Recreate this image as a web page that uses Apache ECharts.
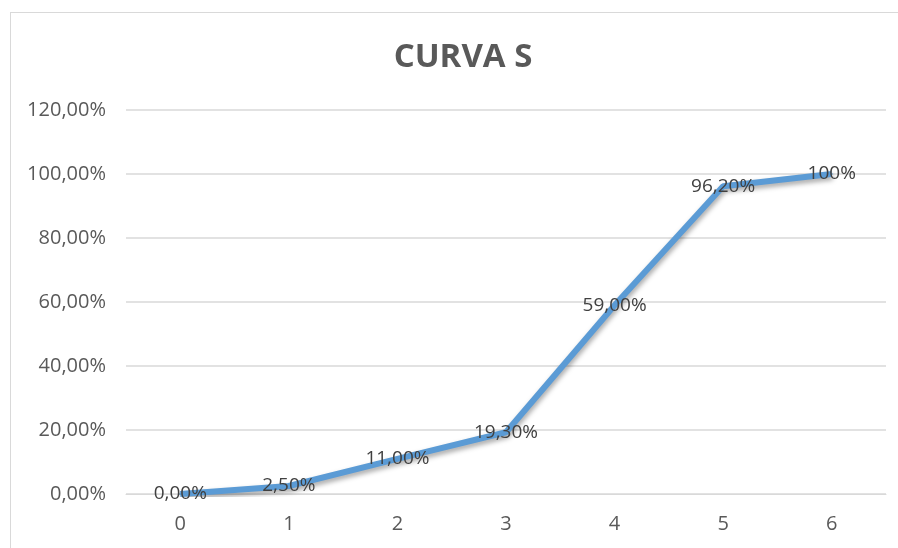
<!DOCTYPE html>
<html>
<head>
<meta charset="utf-8">
<script src="https://cdn.jsdelivr.net/npm/echarts@6/dist/echarts.min.js"></script>
<style>
  html, body { margin: 0; padding: 0; background: #fff; }
  #frame { position: absolute; left: 10px; top: 12px; width: 900px; height: 560px; border: 1px solid #d9d9d9; box-sizing: border-box; }
  #chart { width: 898px; height: 548px; position: absolute; left: 0; top: 0; }
</style>
</head>
<body>
<div id="frame"></div>
<div id="chart"></div>
<script>
// Periods and cumulative progress (percent)
const periods = ['0', '1', '2', '3', '4', '5', '6'];
const progress = [0, 2.5, 11.0, 19.3, 59.0, 96.2, 100];
const progressLabels = ['0,00%', '2,50%', '11,00%', '19,30%', '59,00%', '96,20%', '100%'];
const yTicks = [0, 20, 40, 60, 80, 100, 120];

const chart = echarts.init(document.getElementById('chart'), null, { renderer: 'canvas' });

const fmtPct = v => v.toFixed(2).replace('.', ',') + '%';

chart.setOption({
  animation: false,
  title: {
    text: 'CURVA S',
    left: 458,
    top: 36,
    textAlign: 'center',
    textStyle: { fontFamily: 'Open Sans', fontWeight: 'bold', fontSize: 33, color: '#595959' }
  },
  grid: { left: 126, right: 12, top: 110, bottom: 54, containLabel: false },
  xAxis: {
    type: 'category',
    data: periods,
    boundaryGap: true,
    axisLine: { lineStyle: { color: '#d9d9d9', width: 1 } },
    axisTick: { show: false },
    axisLabel: { color: '#595959', fontFamily: 'Open Sans', fontSize: 20, margin: 20 }
  },
  yAxis: {
    type: 'value',
    min: yTicks[0],
    max: yTicks[yTicks.length - 1],
    interval: 20,
    axisLine: { show: false },
    axisTick: { show: false },
    splitLine: { lineStyle: { color: '#d9d9d9', width: 1.5 } },
    axisLabel: { color: '#595959', fontFamily: 'Open Sans', fontSize: 20, margin: 20, formatter: fmtPct }
  },
  series: [{
    type: 'line',
    data: progress,
    symbol: 'circle',
    symbolSize: 2,
    showSymbol: true,
    itemStyle: { color: '#5b9bd5' },
    lineStyle: {
      color: '#5b9bd5',
      width: 6,
      shadowColor: 'rgba(0,0,0,0.35)',
      shadowBlur: 5,
      shadowOffsetX: 1,
      shadowOffsetY: 3
    },
    label: {
      show: true,
      position: 'inside',
      color: '#404040',
      fontFamily: 'Open Sans',
      fontSize: 19,
      formatter: p => progressLabels[p.dataIndex]
    },
    labelLayout: { hideOverlap: false }
  }]
});
</script>
</body>
</html>
